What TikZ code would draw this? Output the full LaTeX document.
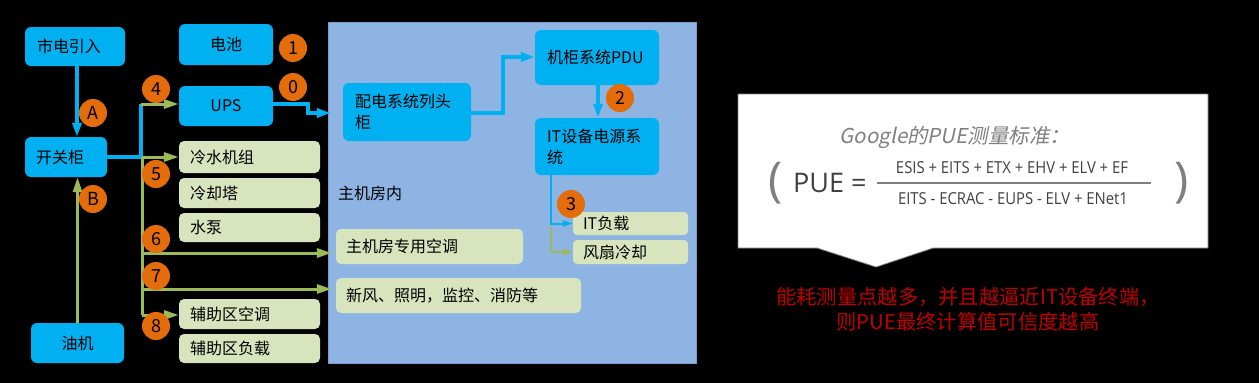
\documentclass[tikz,border=0pt]{standalone}
\usepackage{fontspec}
\setmainfont{Noto Sans CJK SC}
\newfontfamily\cjkit[FakeSlant=0.2]{Noto Sans CJK SC}
\newfontfamily\osans{Open Sans}
\usetikzlibrary{arrows.meta}
\definecolor{cyanbox}{HTML}{00B0F0}
\definecolor{greenbox}{HTML}{D7E4BD}
\definecolor{greenline}{HTML}{9BBB59}
\definecolor{orangec}{HTML}{E46C0A}
\definecolor{panelc}{HTML}{8EB4E3}
\definecolor{paneledge}{HTML}{7A9CCB}
\definecolor{darkred}{HTML}{C00000}
\definecolor{greytxt}{HTML}{7F7F7F}
\definecolor{darktxt}{HTML}{404040}
\tikzset{
  bbox/.style={fill=cyanbox, rounded corners=6pt, inner ysep=0pt, inner xsep=12pt, font=\fontsize{16}{21}\selectfont, text=black},
  gbox/.style={fill=greenbox, rounded corners=5pt, inner ysep=0pt, inner xsep=11pt, font=\fontsize{16}{20}\selectfont, text=black, align=left},
  num/.style={circle, fill=orangec, minimum size=28pt, inner sep=0pt, font=\fontsize{18}{18}\selectfont, text=black},
  bline/.style={draw=cyanbox, line width=3.5pt},
  barrow/.style={bline, -{Triangle[length=14pt,width=9pt]}},
  gline/.style={draw=greenline, line width=3pt},
  garrow/.style={gline, -{Triangle[length=15pt,width=9pt]}},
  bthin/.style={draw=cyanbox, line width=2pt, -{Triangle[length=10pt,width=6pt]}},
  gthin/.style={draw=greenline, line width=2pt, -{Triangle[length=10pt,width=6pt]}},
}
\begin{document}
\begin{tikzpicture}[x=1pt,y=-1pt]
\useasboundingbox (0,0) rectangle (1259,383);
\fill[black] (0,0) rectangle (1259,383);
% main room panel
\filldraw[fill=panelc, draw=paneledge, line width=1pt] (328,22) rectangle (696,363);
\node[anchor=west, font=\fontsize{16}{20}\selectfont, text=black, inner sep=0pt] (room) at (338,193) {主机房内};

% blue boxes
\node[bbox, text width=76pt, minimum height=39pt, align=left] (shidian) at (75,46.5) {市电引入};
\node[bbox, minimum width=94pt, minimum height=41pt] (dianchi) at (226,44.5) {电池};
\node[bbox, minimum width=94pt, minimum height=40pt] (ups) at (226,106) {UPS};
\node[bbox, inner xsep=11pt, text width=60pt, minimum height=40pt, align=left] (kaiguan) at (66,157) {开关柜};
\node[bbox, minimum width=93pt, minimum height=40pt] (youji) at (77.5,343) {油机};
\node[bbox, text width=104pt, minimum height=58pt, align=left] (peidian) at (407,112) {配电系统列头\\柜};
\node[bbox, text width=100pt, minimum height=55pt, align=left] (pdu) at (597,57.5) {机柜系统PDU};
\node[bbox, text width=100pt, minimum height=57pt, align=left] (itpower) at (597,146.5) {IT设备电源系\\统};

% green boxes
\node[gbox, text width=119pt, minimum height=32pt] (g1) at (249.5,157) {冷水机组};
\node[gbox, text width=119pt, minimum height=30pt] (g2) at (249.5,193) {冷却塔};
\node[gbox, text width=119pt, minimum height=29pt] (g3) at (249.5,227.5) {水泵};
\node[gbox, text width=119pt, minimum height=30pt] (g4) at (249.5,314) {辅助区空调};
\node[gbox, text width=119pt, minimum height=29pt] (g5) at (249.5,348.5) {辅助区负载};
\node[gbox, inner xsep=10pt, text width=167pt, minimum height=35pt] (g6) at (429.5,246.5) {主机房专用空调};
\node[gbox, inner xsep=10pt, text width=225pt, minimum height=35pt] (g7) at (458.5,295.5) {新风、照明，监控、消防等};
\node[gbox, inner xsep=10pt, text width=95pt, minimum height=23pt, rounded corners=4pt] (g8) at (630.5,223.5) {IT负载};
\node[gbox, inner xsep=10pt, text width=95pt, minimum height=24pt, rounded corners=4pt] (g9) at (630.5,252) {风扇冷却};

% junction coordinates
\coordinate (jA) at (141,157);
\coordinate (jB) at (141,104);
\coordinate (t0) at (142,157);
\coordinate (t6) at (142,253);
\coordinate (t7) at (142,289);
\coordinate (t8) at (142,315);
\coordinate (u1) at (308,104);
\coordinate (u2) at (308,113);
\coordinate (p1) at (503,113);
\coordinate (p2) at (503,57);
\coordinate (q1) at (551,223.5);
\coordinate (q2) at (551,227);
\coordinate (q3) at (551,252);

% connectors
\draw[barrow] ([xshift=2pt]shidian.south) -- ([xshift=2pt]shidian.south |- kaiguan.north);
\draw[garrow] (youji.north) -- (youji.north |- kaiguan.south);
\draw[bline] (kaiguan.east) -- (jA) -- (jB);
\draw[garrow] (jB) -- (jB -| ups.west);
\draw[gline] (t0) -- (t8);
\draw[garrow] (t0) -- (g1.west);
\draw[garrow, shorten >=4pt] (t6) -- (t6 -| g6.west);
\draw[garrow, shorten >=4pt] (t7) -- (t7 -| g7.west);
\draw[garrow] (t8) -- (t8 -| g4.west);
\draw[barrow, shorten >=12pt] (ups.east |- u1) -- (u1) -- (u2) -- (u2 -| peidian.west);
\draw[barrow] (peidian.east |- p1) -- (p1) -- (p2) -- (p2 -| pdu.west);
\draw[barrow] ([xshift=1pt]pdu.south) -- ([xshift=1pt]itpower.north);
\draw[bthin] (itpower.south -| q1) -- (q1) -- (g8.west);
\draw[gthin] (q2) -- (q3) -- (g9.west);

% number circles
\node[num] (n1) at (293,48) {1};
\node[num] (n0) at (293,87) {0};
\node[num] (n4) at (156,89) {4};
\node[num] (nA) at (93,113) {A};
\node[num] (n5) at (156,174) {5};
\node[num] (nB) at (93,199) {B};
\node[num] (n6) at (156,239) {6};
\node[num] (n7) at (156,276) {7};
\node[num] (n8) at (156,326) {8};
\node[num] (n2) at (620,98) {2};
\node[num] (n3) at (571,204) {3};

% callout
\filldraw[fill=white, draw=greytxt, line width=0.8pt] (738,94) -- (1208,94) -- (1208,248) -- (933,248) -- (876,267) -- (817,248) -- (738,248) -- cycle;
\node[font=\cjkit\fontsize{20.5}{24}\selectfont, text=greytxt, inner sep=0pt] (gtitle) at (955,137) {Google的PUE测量标准：};
\node[font=\osans\fontsize{48}{48}\selectfont, text=greytxt, inner sep=0pt] (lpar) at (776,183) {(};
\node[font=\osans\fontsize{48}{48}\selectfont, text=greytxt, inner sep=0pt] (rpar) at (1182,183) {)};
\node[anchor=west, font=\osans\fontsize{27}{27}\selectfont, text=darktxt, inner sep=0pt] (pue) at (793,183) {PUE =};
\coordinate (fl) at (877,183);
\coordinate (fr) at (1151,183);
\draw[greytxt, line width=1.5pt] (fl) -- (fr);
\node[font=\osans\fontsize{16.5}{18}\selectfont, text=darktxt, inner sep=0pt] (numer) at (1012,168) {\scalebox{0.9}[1]{ESIS + EITS + ETX + EHV + ELV + EF}};
\node[font=\osans\fontsize{16.5}{18}\selectfont, text=darktxt, inner sep=0pt] (denom) at (1013,199) {\scalebox{0.9}[1]{EITS - ECRAC - EUPS - ELV + ENet1}};

% red note
\node[font=\fontsize{20.3}{25}\selectfont, text=darkred, align=center, inner sep=0pt] (note) at (968,309.5) {能耗测量点越多，并且越逼近IT设备终端，\\则PUE最终计算值可信度越高};
\end{tikzpicture}
\end{document}
